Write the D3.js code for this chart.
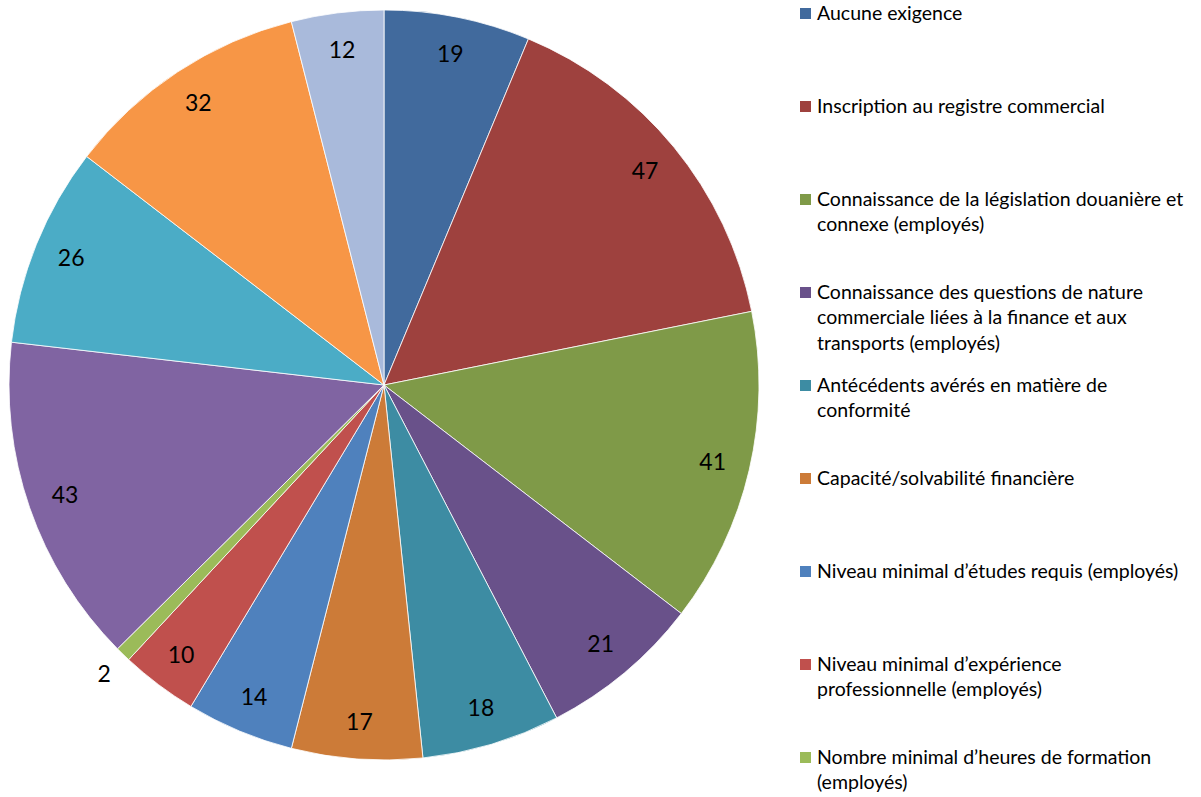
<!DOCTYPE html>
<html>
<head>
<meta charset="utf-8">
<script src="https://cdn.jsdelivr.net/npm/d3@7"></script>
<style>
  body { margin: 0; background: #fff; }
  svg text { font-family: Lato, "Open Sans", sans-serif; fill: #000; }
</style>
</head>
<body>
<svg id="pie"></svg>
<script>
// slice values, clockwise from 12 o'clock
let values = [19, 47, 41, 21, 18, 17, 14, 10, 2, 43, 26, 32, 12];

// legend entries (only the first nine fit in the picture)
let categories = [
    "Aucune exigence",
    "Inscription au registre commercial",
    "Connaissance de la législation douanière et\nconnexe (employés)",
    "Connaissance des questions de nature\ncommerciale liées à la finance et aux\ntransports (employés)",
    "Antécédents avérés en matière de\nconformité",
    "Capacité/solvabilité financière",
    "Niveau minimal d’études requis (employés)",
    "Niveau minimal d’expérience\nprofessionnelle (employés)",
    "Nombre minimal d’heures de formation\n(employés)"
];

let colors = ["#416a9d", "#9e413e", "#7f9a48", "#69518a", "#3d8ca3", "#cc7b38",
    "#4f81bd", "#c0504d", "#9bbb59", "#8064a2", "#4bacc6", "#f79646", "#a9badb"];

let w = 1201, h = 797;
let cx = 384, cy = 385, r = 375;

let svg = d3.select("#pie")
    .attr("width", w)
    .attr("height", h)

let pie = d3.pie().sort(null).value(d => d);
let arcs = pie(values);

let arc = d3.arc().innerRadius(0).outerRadius(r);
let labelArc = d3.arc().innerRadius(r * 0.9).outerRadius(r * 0.9);
//tiny slices get their label pushed out of the pie
let outArc = d3.arc().innerRadius(r + 27).outerRadius(r + 27);

let g = svg.append("g")
    .attr("transform", "translate(" + cx + "," + cy + ")")

g.selectAll("path")
    .data(arcs)
    .enter()
    .append("path")
    .attr("d", arc)
    .style("fill", (d, i) => colors[i])
    .style("stroke", "#fff")
    .style("stroke-width", 0.8)

g.selectAll("text.val")
    .data(arcs)
    .enter()
    .append("text")
    .attr("class", "val")
    .attr("transform", function (d) {
        let p = (d.data < 5 ? outArc : labelArc).centroid(d);
        return "translate(" + p[0] + "," + p[1] + ")";
    })
    .attr("text-anchor", "middle")
    .attr("dy", "0.35em")
    .style("font-size", "23px")
    .text(d => d.data)

// legend
let legendX = 800, legendY = 13, step = 93, lineH = 25.5;

let item = svg.selectAll("g.leg")
    .data(categories)
    .enter()
    .append("g")
    .attr("class", "leg")
    .attr("transform", (d, i) => "translate(" + legendX + "," + (legendY + i * step) + ")")

item.append("rect")
    .attr("x", 0)
    .attr("y", -5)
    .attr("width", 11)
    .attr("height", 11)
    .style("fill", (d, i) => colors[i])

item.append("text")
    .attr("x", 17)
    .style("font-size", "19.5px")
    .selectAll("tspan")
    .data(d => d.split("\n"))
    .enter()
    .append("tspan")
    .attr("x", 17)
    .attr("y", (d, i) => i * lineH)
    .attr("dy", "0.35em")
    .text(d => d)
</script>
</body>
</html>
